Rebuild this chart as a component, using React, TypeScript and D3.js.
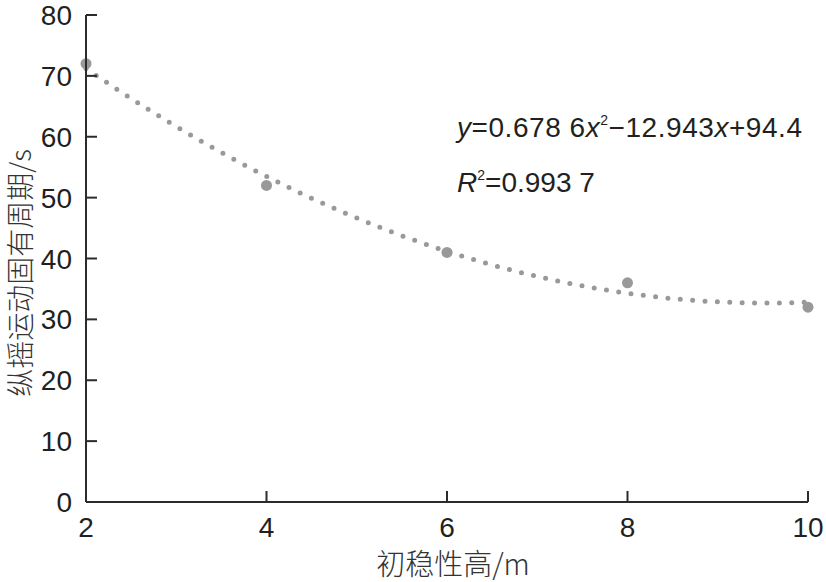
import React from "react";
import * as d3 from "d3";

const xValues = [2, 4, 6, 8, 10];
const yValues = [72, 52, 41, 36, 32];
const xTicks = [2, 4, 6, 8, 10];
const yTicks = [0, 10, 20, 30, 40, 50, 60, 70, 80];
const fitCoefficients = [0.6786, -12.943, 94.4]; // a, b, c of y = ax^2 + bx + c
const xLabel = "初稳性高/m";
const yLabel = "纵摇运动固有周期/s";

const W = 826;
const H = 582;
const left = 86;
const right = 808;
const top = 15;
const bottom = 502;

export default function App() {
  const x = d3.scaleLinear().domain([2, 10]).range([left, right]);
  const y = d3.scaleLinear().domain([0, 80]).range([bottom, top]);
  const [a, b, c] = fitCoefficients;
  const fitX = d3.range(2, 10.0001, 0.05);
  const line = d3
    .line<number>()
    .x((d) => x(d))
    .y((d) => y(a * d * d + b * d + c))
    .curve(d3.curveLinear);
  const axisColor = "#2b2b2b";
  const gray = "#999999";
  const numFont = "'Liberation Sans', Arial, sans-serif";
  const cjkFont = "'Noto Sans CJK SC', 'Noto Sans', sans-serif";
  return (
    <div style={{ position: "absolute", left: 0, top: 0 }}>
      <svg width={W} height={H} viewBox={`0 0 ${W} ${H}`} style={{ display: "block", background: "#fff" }}>
        <path
          d={line(fitX) || ""}
          fill="none"
          stroke={gray}
          strokeWidth={5}
          strokeLinecap="round"
          strokeDasharray="0 12.4"
        />
        {xValues.map((v, i) => (
          <circle key={i} cx={x(v)} cy={y(yValues[i])} r={5.5} fill={gray} />
        ))}
        <line x1={left} x2={left} y1={top} y2={bottom} stroke={axisColor} strokeWidth={2} />
        <line x1={left} x2={right} y1={bottom} y2={bottom} stroke={axisColor} strokeWidth={2} />
        {yTicks.map((t) => (
          <g key={t}>
            <line x1={left} x2={left + 11} y1={y(t)} y2={y(t)} stroke={axisColor} strokeWidth={2} />
            <text
              x={72}
              y={y(t) + 10}
              textAnchor="end"
              fontFamily={numFont}
              fontSize={28}
              fill="#231f20"
            >
              {t}
            </text>
          </g>
        ))}
        {xTicks.map((t) => (
          <g key={t}>
            <line x1={x(t)} x2={x(t)} y1={bottom} y2={bottom - 11} stroke={axisColor} strokeWidth={2} />
            <text
              x={x(t)}
              y={537}
              textAnchor="middle"
              fontFamily={numFont}
              fontSize={28}
              fill="#231f20"
            >
              {t}
            </text>
          </g>
        ))}
        <text
          x={453}
          y={575}
          textAnchor="middle"
          fontFamily={cjkFont}
          fontSize={29}
          fontWeight={300}
          fill="#333"
        >
          {xLabel}
        </text>
        <text
          transform={`translate(31, 273) rotate(-90)`}
          textAnchor="middle"
          fontFamily={cjkFont}
          fontSize={28}
          fontWeight={300}
          fill="#333"
        >
          {yLabel}
        </text>
        <text x={457} y={137} fontFamily={numFont} fontSize={28} fill="#231f20" textLength={345} lengthAdjust="spacing">
          <tspan fontStyle="italic">y</tspan>
          <tspan>=0.678 6</tspan>
          <tspan fontStyle="italic">x</tspan>
          <tspan fontSize={14} dy={-12}>2</tspan>
          <tspan dy={12}>−12.943</tspan>
          <tspan fontStyle="italic">x</tspan>
          <tspan>+94.4</tspan>
        </text>
        <text x={457} y={192} fontFamily={numFont} fontSize={28} fill="#231f20">
          <tspan fontStyle="italic">R</tspan>
          <tspan fontSize={14} dy={-12}>2</tspan>
          <tspan dy={12}>=0.993 7</tspan>
        </text>
      </svg>
    </div>
  );
}
